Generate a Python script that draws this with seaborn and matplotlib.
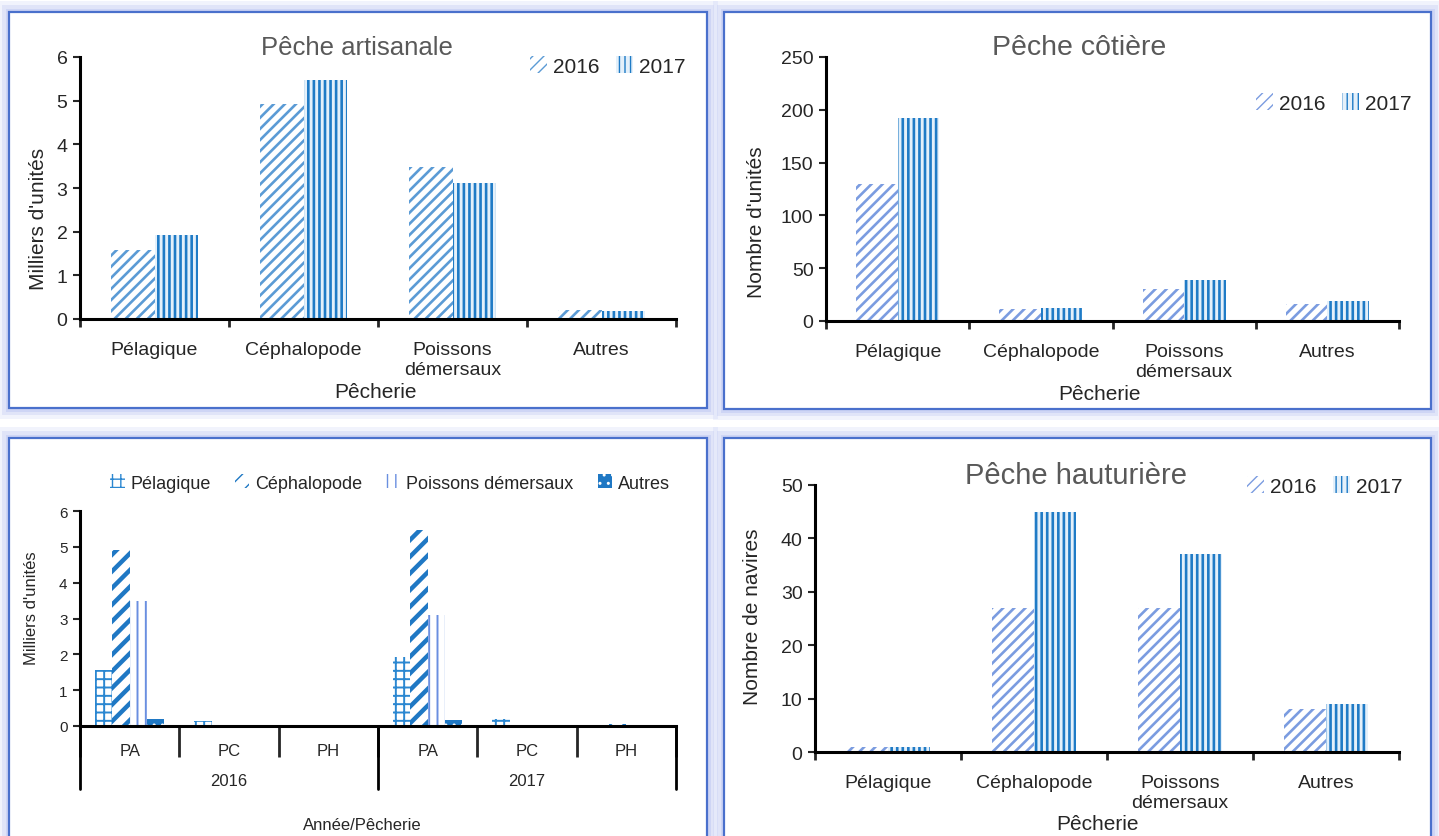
import numpy as np
import pandas as pd
import seaborn as sns
import matplotlib.pyplot as plt
from matplotlib.patches import Patch, Rectangle

# ---- données ----
categories = ['Pélagique', 'Céphalopode', 'Poissons\ndémersaux', 'Autres']
years = ['2016', '2017']

artisanale_2016 = [1.57, 4.92, 3.49, 0.20]   # milliers d'unités
artisanale_2017 = [1.93, 5.48, 3.11, 0.18]
cotiere_2016 = [130, 11, 30, 16]             # nombre d'unités
cotiere_2017 = [192, 12, 39, 19]
hauturiere_2016 = [1, 27, 27, 8]             # nombre de navires
hauturiere_2017 = [1, 45, 37, 9]

# panneau année/pêcherie (milliers d'unités)
groups = ['PA', 'PC', 'PH']
series = ['Pélagique', 'Céphalopode', 'Poissons démersaux', 'Autres']
pa_2016 = [1.57, 4.92, 3.49, 0.20]
pc_2016 = [0.130, 0.011, 0.030, 0.016]
ph_2016 = [0.001, 0.027, 0.027, 0.008]
pa_2017 = [1.93, 5.48, 3.11, 0.18]
pc_2017 = [0.192, 0.012, 0.039, 0.019]
ph_2017 = [0.001, 0.045, 0.037, 0.009]

sns.set_style('white')
plt.rcParams['font.family'] = ['Liberation Sans Narrow', 'Liberation Sans', 'DejaVu Sans']

W, H = 1439, 837
fig = plt.figure(figsize=(W / 100, H / 100), dpi=100)

C17 = '#1f7bc6'
HATCH16, HLW16 = '///', 1.9
HATCH17, HLW17 = '|||', 1.9


def fx(px):
    return px / W


def fy(py):
    return 1 - py / H


def box(l, t, r, b):
    return [l / W, 1 - b / H, (r - l) / W, (b - t) / H]


def style_bar(p, face, edge, hatch, hlw):
    p.set_facecolor(face)
    p.set_edgecolor(edge)
    p.set_hatch(hatch)
    p.set_linewidth(0)
    if hasattr(p, 'set_hatch_linewidth'):
        p.set_hatch_linewidth(hlw)


def make_handle(face, edge, hatch, hlw):
    h = Patch(facecolor=face, edgecolor=edge, hatch=hatch, linewidth=0)
    if hasattr(h, 'set_hatch_linewidth'):
        h.set_hatch_linewidth(hlw)
    return h


def frame(l, t, r, b):
    for off, lw, a in [(6, 10, 0.2), (4, 6, 0.3), (2, 3, 0.45)]:
        fig.add_artist(Rectangle((fx(l - off), fy(b + off)), (r - l + 2 * off) / W, (b - t + 2 * off) / H,
                                 transform=fig.transFigure, fill=False, lw=lw * 0.72,
                                 edgecolor='#b9c4f2', alpha=a))
    fig.add_artist(Rectangle((fx(l), fy(b)), (r - l) / W, (b - t) / H, transform=fig.transFigure,
                             fill=False, lw=1.6, edgecolor='#4a70cc'))


def base_axis(ax, ymax, ystep, nx, tick_fs):
    sns.despine(ax=ax)
    for s in ['left', 'bottom']:
        ax.spines[s].set_linewidth(2.2)
        ax.spines[s].set_color('black')
    ax.set_ylim(0, ymax)
    ax.set_yticks(np.arange(0, ymax + ystep / 2, ystep))
    ax.set_xlim(-0.5, nx - 0.5)
    ax.set_xticks(np.arange(-0.5, nx), minor=True)
    ax.tick_params(axis='y', left=True, direction='out', length=5, width=1.5, labelsize=tick_fs, pad=4)
    ax.tick_params(axis='x', which='major', bottom=True, length=0, labelsize=tick_fs)
    ax.tick_params(axis='x', which='minor', bottom=True, direction='out', length=6, width=2)


def year_panel(bx, v16, v17, ymax, ystep, title, title_xy, title_fs, ylabel, ylab_xy, xlab_xy, leg_xy, c16):
    ax = fig.add_axes(box(*bx))
    df = pd.DataFrame({'Pêcherie': categories * 2,
                       'Année': [years[0]] * 4 + [years[1]] * 4,
                       'val': v16 + v17})
    sns.barplot(data=df, x='Pêcherie', y='val', hue='Année', order=categories, hue_order=years,
                palette=['white', 'white'], width=0.58, errorbar=None, legend=False, ax=ax)
    for p in ax.containers[0]:
        style_bar(p, 'white', c16, HATCH16, HLW16)
    for p in ax.containers[1]:
        style_bar(p, '#e4f0fa', C17, HATCH17, HLW17)
    base_axis(ax, ymax, ystep, 4, 14)
    ax.tick_params(axis='x', which='major', pad=16)
    ax.set_ylabel(ylabel, fontsize=15)
    ax.set_xlabel('Pêcherie', fontsize=15)
    ax.yaxis.set_label_coords(fx(ylab_xy[0]), fy(ylab_xy[1]), transform=fig.transFigure)
    ax.xaxis.set_label_coords(fx(xlab_xy[0]), fy(xlab_xy[1]), transform=fig.transFigure)
    ax.xaxis.label.set_verticalalignment('center')
    ax.yaxis.label.set_verticalalignment('center')
    fig.text(fx(title_xy[0]), fy(title_xy[1]), title, ha='center', va='center',
             fontsize=title_fs, color='#595959')
    handles = [make_handle('white', c16, HATCH16, HLW16), make_handle('#e4f0fa', C17, HATCH17, HLW17)]
    fig.legend(handles, years, loc='center', bbox_to_anchor=(fx(leg_xy[0]), fy(leg_xy[1])),
               ncol=2, frameon=False, fontsize=15, handlelength=0.8, handleheight=0.9,
               handletextpad=0.3, columnspacing=0.8)
    return ax


frame(9, 13, 707, 409)
frame(724, 13, 1431, 410)
frame(9, 439, 707, 860)
frame(724, 439, 1431, 860)

year_panel((80, 58, 676, 320), artisanale_2016, artisanale_2017, 6, 1,
           'Pêche artisanale', (357, 48), 18.5, "Milliers d'unités", (39, 219), (376, 393), (608, 67), '#5b9bd5')
year_panel((826, 58, 1399, 322), cotiere_2016, cotiere_2017, 250, 50,
           'Pêche côtière', (1079, 48), 20.5, "Nombre d'unités", (757, 222), (1100, 395), (1334, 104), '#7b9ce0')
year_panel((815, 486, 1399, 753), hauturiere_2016, hauturiere_2017, 50, 10,
           'Pêche hauturière', (1076, 476), 21, 'Nombre de navires', (753, 617), (1098, 825), (1325, 487), '#7b9ce0')

# ---- panneau année / pêcherie ----
ax = fig.add_axes(box(80, 512, 676, 727))
keys = [f'{y} {g}' for y in years for g in groups]
rows = [pa_2016, pc_2016, ph_2016, pa_2017, pc_2017, ph_2017]
df = pd.DataFrame([(k, s, v) for k, r in zip(keys, rows) for s, v in zip(series, r)],
                  columns=['groupe', 'série', 'val'])
sns.barplot(data=df, x='groupe', y='val', hue='série', order=keys, hue_order=series,
            palette=['white'] * 4, width=0.7, errorbar=None, legend=False, ax=ax)
bl_styles = [('white', '#2b87d1', '++', 1.4),
             ('white', '#1f78c4', '//', 3.2),
             ('white', '#6a8fe0', '||', 1.4),
             ('#1f78c4', 'white', '..', 1.0)]
for cont, st in zip(ax.containers, bl_styles):
    for p in cont:
        style_bar(p, *st)
base_axis(ax, 6, 1, 6, 11)
ax.set_xticklabels(groups * 2)
ax.tick_params(axis='x', which='major', pad=12, labelsize=12)
ax.tick_params(axis='x', which='minor', length=22)
xt = ax.get_xaxis_transform()
for x in [-0.5, 2.5, 5.5]:
    ax.plot([x, x], [0, -0.293], transform=xt, clip_on=False, color='black', lw=2)
for i, y in enumerate(years):
    ax.text(1 + 3 * i, -0.255, y, transform=xt, ha='center', va='center', fontsize=12)
ax.set_ylabel("Milliers d'unités", fontsize=12)
ax.set_xlabel('Année/Pêcherie', fontsize=12)
ax.yaxis.set_label_coords(fx(32), fy(608), transform=fig.transFigure)
ax.xaxis.set_label_coords(fx(362), fy(826), transform=fig.transFigure)
ax.xaxis.label.set_verticalalignment('center')
ax.yaxis.label.set_verticalalignment('center')
fig.legend([make_handle(*st) for st in bl_styles], series, loc='center',
           bbox_to_anchor=(fx(390), fy(484)), ncol=4, frameon=False, fontsize=13,
           handlelength=0.8, handleheight=0.8, handletextpad=0.3, columnspacing=1.35)

fig.savefig('out.png', dpi=100)
